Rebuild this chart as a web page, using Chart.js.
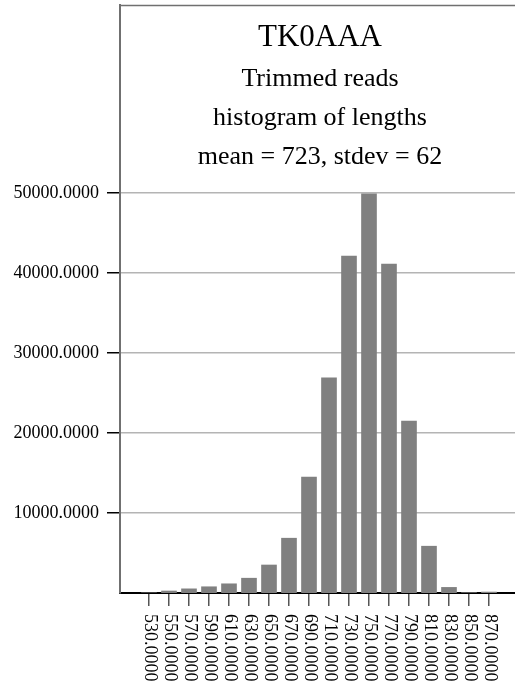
<!DOCTYPE html>
<html>
<head>
<meta charset="utf-8">
<script src="https://cdn.jsdelivr.net/npm/chart.js@4/dist/chart.umd.min.js"></script>
<style>
  html, body { margin: 0; padding: 0; background: #fff; }
  #wrap { width: 515px; height: 689px; position: relative; }
</style>
</head>
<body>
<div id="wrap"><canvas id="c" width="515" height="689"></canvas></div>
<script>
const lengths = [530, 550, 570, 590, 610, 630, 650, 670, 690, 710, 730, 750, 770, 790, 810, 830, 850, 870];
const counts  = [20, 250, 520, 780, 1150, 1850, 3500, 6850, 14500, 26900, 42100, 49900, 41100, 21500, 5850, 700, 40, 120];
const yTicks  = [10000, 20000, 30000, 40000, 50000];
const titleLines = ['TK0AAA', 'Trimmed reads', 'histogram of lengths', 'mean = 723, stdev = 62'];

const SERIF = '"Liberation Serif", "Times New Roman", serif';

const frameAndText = {
  id: 'frameAndText',
  afterDraw(chart) {
    const ctx = chart.ctx;
    const a = chart.chartArea;
    ctx.save();
    ctx.strokeStyle = '#707070';
    ctx.lineWidth = 1.5;
    ctx.beginPath();
    ctx.moveTo(a.left - 1, a.top + 0.5);
    ctx.lineTo(a.right, a.top + 0.5);
    ctx.stroke();
    ctx.restore();

    const cx = 320;
    const baselines = [46, 86, 125, 164];
    const sizes = [31, 26, 26, 26];
    ctx.save();
    ctx.fillStyle = '#000';
    ctx.textAlign = 'center';
    ctx.textBaseline = 'alphabetic';
    titleLines.forEach((t, i) => {
      ctx.font = sizes[i] + 'px ' + SERIF;
      ctx.fillText(t, cx, baselines[i]);
    });
    ctx.restore();

    const xs = chart.scales.x;
    ctx.save();
    ctx.fillStyle = '#000';
    ctx.font = '18px ' + SERIF;
    ctx.textAlign = 'left';
    ctx.textBaseline = 'middle';
    lengths.forEach(v => {
      const px = xs.getPixelForValue(v);
      ctx.save();
      ctx.translate(px + 1, a.bottom + 21);
      ctx.rotate(Math.PI / 2);
      ctx.fillText(v.toFixed(4), 0, 0);
      ctx.restore();
    });
    ctx.restore();
  }
};

new Chart(document.getElementById('c'), {
  type: 'bar',
  data: {
    datasets: [{
      data: lengths.map((l, i) => ({ x: l, y: counts[i] })),
      backgroundColor: '#808080',
      borderWidth: 0,
      barThickness: 15
    }]
  },
  options: {
    responsive: false,
    animation: false,
    layout: { padding: { top: 5, right: 0, bottom: 0, left: 0 } },
    plugins: {
      legend: { display: false },
      tooltip: { enabled: false },
      title: { display: false }
    },
    scales: {
      x: {
        type: 'linear',
        min: 501,
        max: 896,
        offset: false,
        afterBuildTicks: s => { s.ticks = lengths.map(v => ({ value: v })); },
        afterFit: s => { s.height = 96; s.paddingLeft = 0; s.paddingRight = 0; },
        ticks: { display: false },
        grid: {
          offset: false,
          drawOnChartArea: false,
          drawTicks: true,
          tickLength: 13,
          tickColor: '#555',
          lineWidth: 1.5
        },
        border: { display: true, color: '#000', width: 2 }
      },
      y: {
        min: 0,
        max: 73500,
        afterBuildTicks: s => { s.ticks = yTicks.map(v => ({ value: v })); },
        afterFit: s => { s.width = 120; s.paddingTop = 0; s.paddingBottom = 0; },
        ticks: {
          callback: v => Number(v).toFixed(4),
          font: { family: SERIF, size: 18 },
          color: '#000',
          padding: 8
        },
        grid: {
          color: '#b4b4b4',
          lineWidth: 1.5,
          drawTicks: true,
          tickLength: 13,
          tickColor: '#000'
        },
        border: { display: true, color: '#707070', width: 2 }
      }
    }
  },
  plugins: [frameAndText]
});
</script>
</body>
</html>
